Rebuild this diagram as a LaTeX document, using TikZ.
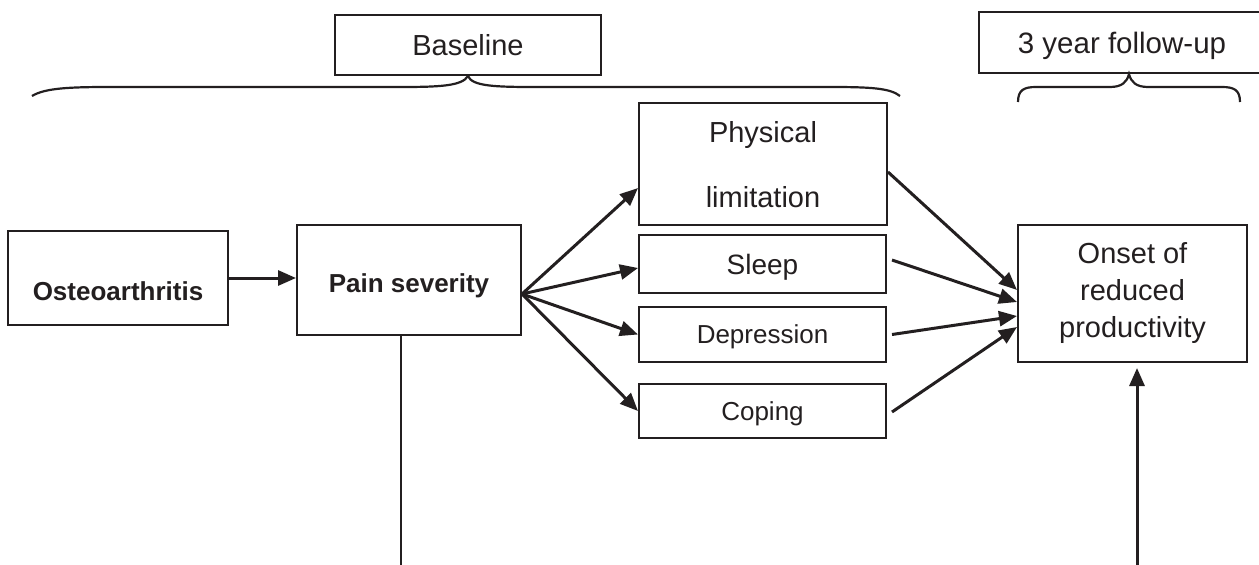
\documentclass[tikz,border=0pt]{standalone}
\usepackage{fontspec}
\setmainfont{Liberation Sans}
\usetikzlibrary{arrows.meta,calc}
\definecolor{ink}{HTML}{231F20}

\begin{document}
\begin{tikzpicture}[x=1pt,y=-1pt,
  box/.style={draw=ink,line width=2pt,inner sep=0pt,text=ink,align=center},
  arr/.style={draw=ink,line width=3pt,-{Triangle[length=18pt,width=15pt]}},
  plain/.style={draw=ink,line width=2.6pt},
  brc/.style={draw=ink,line width=2.2pt}]
\useasboundingbox (0,0) rectangle (1259,565);

% time labels
\node (base) at (468,45) [box,minimum width=266pt,minimum height=60pt,
  font=\fontsize{29}{34}\selectfont,text height=21pt,text depth=0pt] {Baseline};
\node (follow) at (1122,42.5) [box,minimum width=286pt,minimum height=61pt,
  font=\fontsize{29.5}{34}\selectfont,text height=21pt,text depth=0pt] {3 year follow-up};
\draw [brc] (32,96) .. controls (45,88) and (70,87) .. (110,87) -- (400,87)
  .. controls (440,87) and (462,86) .. (base.south)
  .. controls (472,86) and (494,87) .. (534,87) -- (830,87)
  .. controls (870,87) and (890,88) .. (900,96);
\draw [brc] (1018,102) .. controls (1018,90) and (1024,87) .. (1036,87) -- (1110,87)
  .. controls (1122,87) and (1127,82) .. (follow.south -| 1129,0)
  .. controls (1131,82) and (1136,87) .. (1148,87) -- (1222,87)
  .. controls (1234,87) and (1240,90) .. (1240,102);

% main boxes
\node (osteo) at (118,278) [box,minimum width=220pt,minimum height=94pt,
  font=\fontsize{26}{30}\selectfont\bfseries,text height=44pt,text depth=0pt] {Osteoarthritis};
\node (pain) at (409,280) [box,minimum width=224pt,minimum height=110pt,
  font=\fontsize{26}{30}\selectfont\bfseries,text height=24pt,text depth=0pt] {Pain severity};
\node (phys) at (763,164) [box,minimum width=248pt,minimum height=122pt,
  font=\fontsize{29}{65}\selectfont,text height=86pt,text depth=0pt] {Physical\\limitation};
\node (sleep) at (762.5,264) [box,minimum width=247pt,minimum height=58pt,
  font=\fontsize{28}{32}\selectfont,text height=20pt,text depth=0pt] {Sleep};
\node (dep) at (762.5,334.5) [box,minimum width=247pt,minimum height=55pt,
  font=\fontsize{26}{30}\selectfont,text height=17pt,text depth=0pt] {Depression};
\node (coping) at (762.5,411) [box,minimum width=247pt,minimum height=54pt,
  font=\fontsize{26}{30}\selectfont,text height=18pt,text depth=0pt] {Coping};
\node (onset) at (1132.5,293.5) [box,minimum width=229pt,minimum height=137pt,
  font=\fontsize{29}{37}\selectfont,text height=87pt,text depth=0pt] {Onset of\\reduced\\productivity};

% connectors
\draw [arr] (osteo.east) -- (osteo.east -| pain.west);
\coordinate (fan) at ($(pain.east)+(0,14)$);
\draw [arr] (fan) -- ($(phys.west)+(0,24)$);
\draw [arr] (fan) -- ($(sleep.west)+(0,4)$);
\draw [arr] (fan) -- (dep.west);
\draw [arr] (fan) -- (coping.west);
\draw [arr] ($(phys.east)+(0,8)$) -- ($(onset.west)+(0,-3.5)$);
\draw [arr] ($(sleep.east)+(5,-4)$) -- ($(onset.west)+(0,8.5)$);
\draw [arr] ($(dep.east)+(5,0)$) -- ($(onset.west)+(0,22.5)$);
\draw [arr] ($(coping.east)+(5,1)$) -- ($(onset.west)+(0,33.5)$);
\coordinate (painfoot) at (401,565);
\draw [plain] ($(pain.south)+(-8,0)$) -- (painfoot);
\coordinate (onsetfoot) at (1137,565);
\draw [arr,shorten >=5pt] (onsetfoot) -- (onsetfoot |- onset.south);
\end{tikzpicture}
\end{document}
